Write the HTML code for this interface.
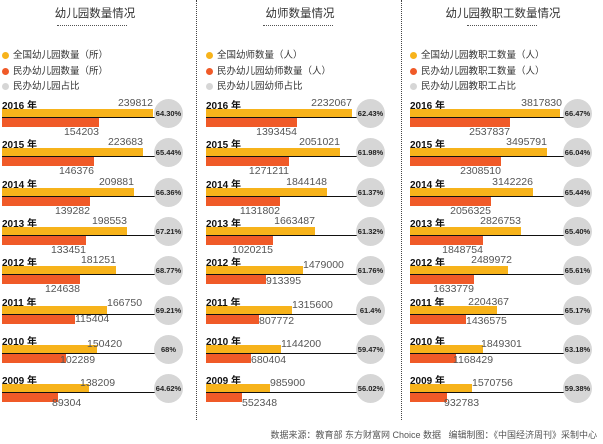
<!DOCTYPE html>
<html><head><meta charset="utf-8"><style>
body{margin:0;width:603px;height:444px;background:#fff;position:relative;overflow:hidden;font-family:"Liberation Sans","Noto Sans CJK SC",sans-serif}
.a{position:absolute}
.t{font-size:11.5px;color:#333;text-align:center;width:190px;top:5px}
.dl{border-top:1px dotted #555;height:0;top:25px;width:70px}
.sep{border-left:1px dotted #444;top:0;height:420px;width:0}
.lg{font-size:9.5px;color:#333;white-space:nowrap}
.lg i{display:inline-block;width:7px;height:7px;border-radius:50%;margin-right:4px;vertical-align:-1px}
.r{position:absolute;height:36px}
.y{position:absolute;left:0;top:-1px;font-size:10px;font-weight:bold;color:#111;white-space:nowrap}
.o{position:absolute;left:0;top:11px;height:8px;background:#f7b31b}
.ln{position:absolute;left:0;top:19px;height:1px;background:#111}
.d{position:absolute;left:0;top:20px;height:9px;background:#f05a28}
.v{position:absolute;font-size:10.5px;color:#555;white-space:nowrap;line-height:11px}
.u{top:0}.w{top:29px}
.rt{transform:translateX(-100%)}
.c{position:absolute;top:1px;width:29px;height:29px;border-radius:50%;background:#d6d6d6;font-size:7.5px;font-weight:bold;color:#222;text-align:center;line-height:29px}
</style></head><body>
<div class="a t" style="left:0">幼儿园数量情况</div>
<div class="a t" style="left:205px">幼师数量情况</div>
<div class="a t" style="left:408px">幼儿园教职工数量情况</div>
<div class="a dl" style="left:57px"></div><div class="a dl" style="left:263px"></div><div class="a dl" style="left:467px"></div>
<div class="a sep" style="left:196px"></div><div class="a sep" style="left:401px"></div>

<div class="a lg" style="left:2px;top:47px"><i style="background:#f7b31b"></i>全国幼儿园数量（所）</div>
<div class="a lg" style="left:2px;top:63px"><i style="background:#f05a28"></i>民办幼儿园数量（所）</div>
<div class="a lg" style="left:2px;top:78px"><i style="background:#d6d6d6"></i>民办幼儿园占比</div>
<div class="a lg" style="left:206px;top:47px"><i style="background:#f7b31b"></i>全国幼师数量（人）</div>
<div class="a lg" style="left:206px;top:63px"><i style="background:#f05a28"></i>民办幼儿园幼师数量（人）</div>
<div class="a lg" style="left:206px;top:78px"><i style="background:#d6d6d6"></i>民办幼儿园幼师占比</div>
<div class="a lg" style="left:410px;top:47px"><i style="background:#f7b31b"></i>全国幼儿园教职工数量（人）</div>
<div class="a lg" style="left:410px;top:63px"><i style="background:#f05a28"></i>民办幼儿园教职工数量（人）</div>
<div class="a lg" style="left:410px;top:78px"><i style="background:#d6d6d6"></i>民办幼儿园教职工占比</div>

<!-- Panel 1 -->
<div class="r" style="left:2px;top:98px;width:190px"><div class="y">2016 年</div><div class="o" style="width:151px"></div><div class="ln" style="width:166px"></div><div class="d" style="width:97px"></div><div class="v u rt" style="left:151px">239812</div><div class="v w rt" style="left:97px">154203</div><div class="c" style="left:152px">64.30%</div></div>
<div class="r" style="left:2px;top:137px;width:190px"><div class="y">2015 年</div><div class="o" style="width:141px"></div><div class="ln" style="width:166px"></div><div class="d" style="width:92px"></div><div class="v u rt" style="left:141px">223683</div><div class="v w rt" style="left:92px">146376</div><div class="c" style="left:152px">65.44%</div></div>
<div class="r" style="left:2px;top:177px;width:190px"><div class="y">2014 年</div><div class="o" style="width:132px"></div><div class="ln" style="width:166px"></div><div class="d" style="width:88px"></div><div class="v u rt" style="left:132px">209881</div><div class="v w rt" style="left:88px">139282</div><div class="c" style="left:152px">66.36%</div></div>
<div class="r" style="left:2px;top:216px;width:190px"><div class="y">2013 年</div><div class="o" style="width:125px"></div><div class="ln" style="width:166px"></div><div class="d" style="width:84px"></div><div class="v u rt" style="left:125px">198553</div><div class="v w rt" style="left:84px">133451</div><div class="c" style="left:152px">67.21%</div></div>
<div class="r" style="left:2px;top:255px;width:190px"><div class="y">2012 年</div><div class="o" style="width:114px"></div><div class="ln" style="width:166px"></div><div class="d" style="width:78px"></div><div class="v u rt" style="left:114px">181251</div><div class="v w rt" style="left:78px">124638</div><div class="c" style="left:152px">68.77%</div></div>
<div class="r" style="left:2px;top:295px;width:190px"><div class="y">2011 年</div><div class="o" style="width:105px"></div><div class="ln" style="width:166px"></div><div class="d" style="width:73px"></div><div class="v u" style="left:105px;top:3px">166750</div><div class="v w" style="left:73px;top:19px">115404</div><div class="c" style="left:152px">69.21%</div></div>
<div class="r" style="left:2px;top:334px;width:190px"><div class="y">2010 年</div><div class="o" style="width:95px"></div><div class="ln" style="width:166px"></div><div class="d" style="width:64px"></div><div class="v u" style="left:85px;top:5px">150420</div><div class="v w" style="left:58px;top:21px">102289</div><div class="c" style="left:152px">68%</div></div>
<div class="r" style="left:2px;top:373px;width:190px"><div class="y">2009 年</div><div class="o" style="width:87px"></div><div class="ln" style="width:166px"></div><div class="d" style="width:56px"></div><div class="v u" style="left:78px;top:5px">138209</div><div class="v w" style="left:50px;top:25px">89304</div><div class="c" style="left:152px">64.62%</div></div>

<!-- Panel 2 -->
<div class="r" style="left:206px;top:98px;width:190px"><div class="y">2016 年</div><div class="o" style="width:146px"></div><div class="ln" style="width:166px"></div><div class="d" style="width:91px"></div><div class="v u rt" style="left:146px">2232067</div><div class="v w rt" style="left:91px">1393454</div><div class="c" style="left:150px">62.43%</div></div>
<div class="r" style="left:206px;top:137px;width:190px"><div class="y">2015 年</div><div class="o" style="width:134px"></div><div class="ln" style="width:166px"></div><div class="d" style="width:83px"></div><div class="v u rt" style="left:134px">2051021</div><div class="v w rt" style="left:83px">1271211</div><div class="c" style="left:150px">61.98%</div></div>
<div class="r" style="left:206px;top:177px;width:190px"><div class="y">2014 年</div><div class="o" style="width:121px"></div><div class="ln" style="width:166px"></div><div class="d" style="width:74px"></div><div class="v u rt" style="left:121px">1844148</div><div class="v w rt" style="left:74px">1131802</div><div class="c" style="left:150px">61.37%</div></div>
<div class="r" style="left:206px;top:216px;width:190px"><div class="y">2013 年</div><div class="o" style="width:109px"></div><div class="ln" style="width:166px"></div><div class="d" style="width:67px"></div><div class="v u rt" style="left:109px">1663487</div><div class="v w rt" style="left:67px">1020215</div><div class="c" style="left:150px">61.32%</div></div>
<div class="r" style="left:206px;top:255px;width:190px"><div class="y">2012 年</div><div class="o" style="width:97px"></div><div class="ln" style="width:166px"></div><div class="d" style="width:60px"></div><div class="v u" style="left:97px;top:5px">1479000</div><div class="v w" style="left:60px;top:21px">913395</div><div class="c" style="left:150px">61.76%</div></div>
<div class="r" style="left:206px;top:295px;width:190px"><div class="y">2011 年</div><div class="o" style="width:86px"></div><div class="ln" style="width:166px"></div><div class="d" style="width:53px"></div><div class="v u" style="left:86px;top:5px">1315600</div><div class="v w" style="left:53px;top:21px">807772</div><div class="c" style="left:150px">61.4%</div></div>
<div class="r" style="left:206px;top:334px;width:190px"><div class="y">2010 年</div><div class="o" style="width:75px"></div><div class="ln" style="width:166px"></div><div class="d" style="width:45px"></div><div class="v u" style="left:75px;top:5px">1144200</div><div class="v w" style="left:45px;top:21px">680404</div><div class="c" style="left:150px">59.47%</div></div>
<div class="r" style="left:206px;top:373px;width:190px"><div class="y">2009 年</div><div class="o" style="width:64px"></div><div class="ln" style="width:166px"></div><div class="d" style="width:36px"></div><div class="v u" style="left:64px;top:5px">985900</div><div class="v w" style="left:36px;top:25px">552348</div><div class="c" style="left:150px">56.02%</div></div>

<!-- Panel 3 -->
<div class="r" style="left:410px;top:98px;width:190px"><div class="y">2016 年</div><div class="o" style="width:150px"></div><div class="ln" style="width:166px"></div><div class="d" style="width:100px"></div><div class="v u rt" style="left:152px">3817830</div><div class="v w rt" style="left:100px">2537837</div><div class="c" style="left:153px">66.47%</div></div>
<div class="r" style="left:410px;top:137px;width:190px"><div class="y">2015 年</div><div class="o" style="width:137px"></div><div class="ln" style="width:166px"></div><div class="d" style="width:91px"></div><div class="v u rt" style="left:137px">3495791</div><div class="v w rt" style="left:91px">2308510</div><div class="c" style="left:153px">66.04%</div></div>
<div class="r" style="left:410px;top:177px;width:190px"><div class="y">2014 年</div><div class="o" style="width:123px"></div><div class="ln" style="width:166px"></div><div class="d" style="width:81px"></div><div class="v u rt" style="left:123px">3142226</div><div class="v w rt" style="left:81px">2056325</div><div class="c" style="left:153px">65.44%</div></div>
<div class="r" style="left:410px;top:216px;width:190px"><div class="y">2013 年</div><div class="o" style="width:111px"></div><div class="ln" style="width:166px"></div><div class="d" style="width:73px"></div><div class="v u rt" style="left:111px">2826753</div><div class="v w rt" style="left:73px">1848754</div><div class="c" style="left:153px">65.40%</div></div>
<div class="r" style="left:410px;top:255px;width:190px"><div class="y">2012 年</div><div class="o" style="width:98px"></div><div class="ln" style="width:166px"></div><div class="d" style="width:64px"></div><div class="v u rt" style="left:102px">2489972</div><div class="v w rt" style="left:64px">1633779</div><div class="c" style="left:153px">65.61%</div></div>
<div class="r" style="left:410px;top:295px;width:190px"><div class="y">2011 年</div><div class="o" style="width:87px"></div><div class="ln" style="width:166px"></div><div class="d" style="width:56px"></div><div class="v u rt" style="left:99px;top:2px">2204367</div><div class="v w" style="left:56px;top:21px">1436575</div><div class="c" style="left:153px">65.17%</div></div>
<div class="r" style="left:410px;top:334px;width:190px"><div class="y">2010 年</div><div class="o" style="width:73px"></div><div class="ln" style="width:166px"></div><div class="d" style="width:46px"></div><div class="v u" style="left:71px;top:5px">1849301</div><div class="v w" style="left:43px;top:21px">1168429</div><div class="c" style="left:153px">63.18%</div></div>
<div class="r" style="left:410px;top:373px;width:190px"><div class="y">2009 年</div><div class="o" style="width:62px"></div><div class="ln" style="width:166px"></div><div class="d" style="width:37px"></div><div class="v u" style="left:62px;top:5px">1570756</div><div class="v w" style="left:34px;top:25px">932783</div><div class="c" style="left:153px">59.38%</div></div>

<div class="a" style="right:6px;top:428px;font-size:9px;color:#555;white-space:nowrap">数据来源：教育部 东方财富网 Choice 数据 &nbsp;&nbsp;编辑制图：《中国经济周刊》采制中心</div>
</body></html>
